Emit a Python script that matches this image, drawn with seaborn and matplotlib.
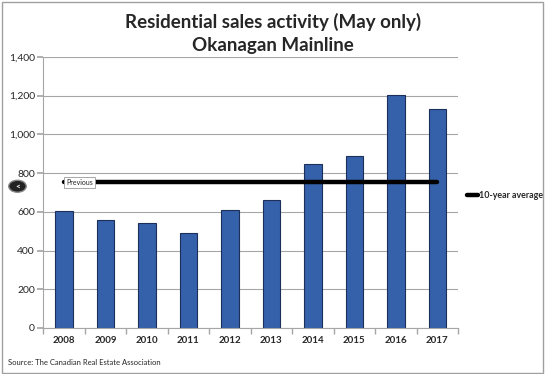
import matplotlib
matplotlib.use("Agg")
import matplotlib.pyplot as plt
import seaborn as sns
import pandas as pd
from matplotlib.patches import Rectangle, Circle
from matplotlib.ticker import FuncFormatter, FixedLocator

years = ["2008", "2009", "2010", "2011", "2012", "2013", "2014", "2015", "2016", "2017"]
sales = [604, 556, 542, 489, 610, 660, 845, 886, 1201, 1131]
avg_value = 752
avg_line = [avg_value] * len(years)

title_text = "Residential sales activity (May only)\nOkanagan Mainline"
source_text = "Source: The Canadian Real Estate Association"
legend_label = "10-year average"

sns.set_theme(style="white")
plt.rcParams["font.family"] = ["Lato", "DejaVu Sans"]

df = pd.DataFrame({"Year": years, "Sales": sales})
df_avg = pd.DataFrame({"Year": years, "Average": avg_line})

fig = plt.figure(figsize=(5.46, 3.74), dpi=100)
ax = fig.add_axes([0.079, 0.123, 0.760, 0.725])

sns.barplot(data=df, x="Year", y="Sales", color="#3561ab", width=0.42,
            edgecolor="#1b2f5a", linewidth=0.8, saturation=1, ax=ax, zorder=2)
sns.lineplot(data=df_avg, x="Year", y="Average", color="black", linewidth=3.2,
             ax=ax, zorder=3, label=legend_label)

ax.set_ylim(0, 1400)
ax.set_xlim(-0.5, len(years) - 0.5)
ax.set_yticks(range(0, 1401, 200))
ax.yaxis.set_major_formatter(FuncFormatter(lambda v, p: f"{int(v):,}"))
ax.grid(axis="y", color="#a6a6a6", linewidth=0.8, zorder=0)
ax.set_axisbelow(True)
ax.set_xlabel("")
ax.set_ylabel("")

for s in ["top", "right"]:
    ax.spines[s].set_visible(False)
ax.spines["left"].set_color("#a6a6a6")
ax.spines["bottom"].set_color("#a6a6a6")
ax.spines["left"].set_linewidth(0.8)
ax.spines["bottom"].set_linewidth(0.8)

ax.tick_params(axis="y", labelsize=7.5, length=4, color="#a6a6a6", direction="out",
               left=True, pad=2)
ax.tick_params(axis="x", which="major", labelsize=7, length=0, pad=6)
for lbl in ax.get_xticklabels():
    lbl.set_fontweight("bold")
ax.xaxis.set_minor_locator(FixedLocator([i + 0.5 for i in range(-1, len(years))]))
ax.tick_params(axis="x", which="minor", length=4, color="#a6a6a6", bottom=True)

ax.legend(loc="center left", bbox_to_anchor=(1.008, 0.49), frameon=False,
          handlelength=1.3, handletextpad=0.05, borderaxespad=0.2,
          prop={"weight": "bold", "size": 6.4})

fig.text(0.5, 0.965, title_text, ha="center", va="top", fontsize=13.5,
         fontweight="bold", linespacing=1.45)
fig.text(0.015, 0.022, source_text, ha="left", va="bottom", fontsize=5.5)

# outer chart border
fig.patches.append(Rectangle((0.003, 0.004), 0.992, 0.99, transform=fig.transFigure,
                             fill=False, edgecolor="#a0a0a0", linewidth=1))

# carousel overlay seen on the reference
fig.patches.append(Circle((0.032, 0.502), 0.016, transform=fig.transFigure,
                          facecolor="#222222", edgecolor="#888888", linewidth=1))
fig.text(0.032, 0.502, "<", ha="center", va="center", fontsize=6,
         color="white", fontweight="bold")
fig.text(0.121, 0.512, "Previous", ha="left", va="center", fontsize=5,
         bbox=dict(boxstyle="square,pad=0.35", facecolor="white",
                   edgecolor="#999999", linewidth=0.6), zorder=5)

fig.savefig("out.png", dpi=100)
